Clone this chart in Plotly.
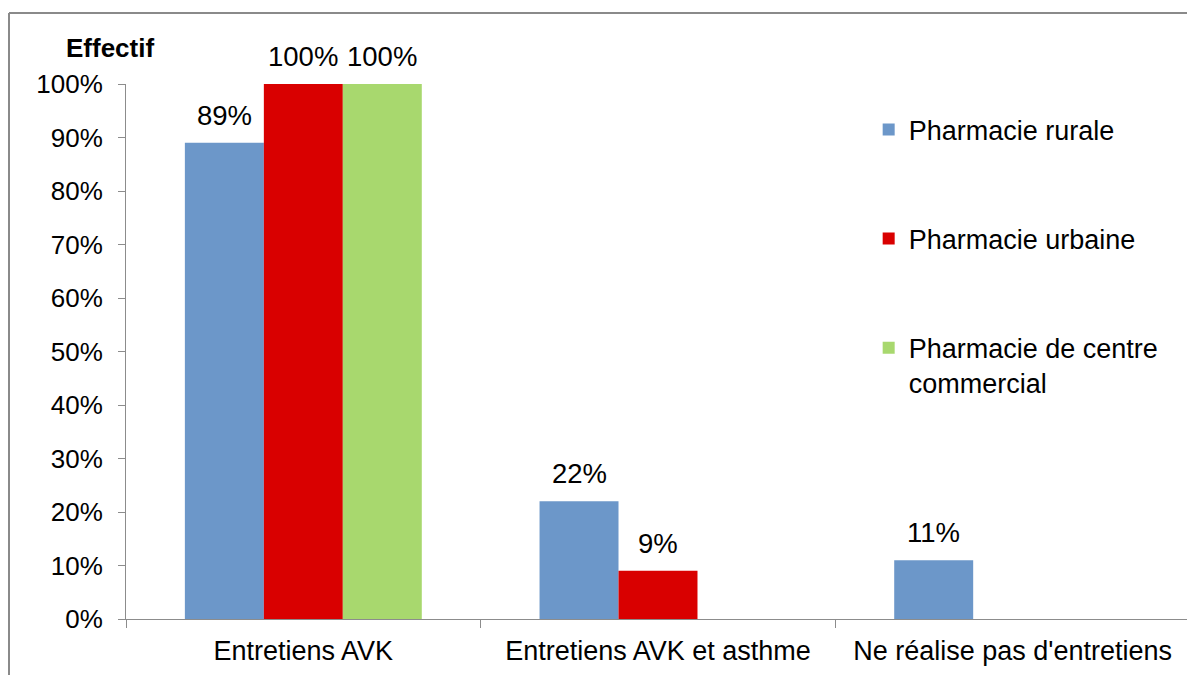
import plotly.graph_objects as go

categories = ["Entretiens AVK", "Entretiens AVK et asthme", "Ne réalise pas d'entretiens"]
series_names = ["Pharmacie rurale", "Pharmacie urbaine", "Pharmacie de centre<br>commercial"]
rurale = [0.89, 0.22, 0.11]
urbaine = [1.00, 0.09, None]
centre = [1.00, None, None]
y_ticks = [0, 0.1, 0.2, 0.3, 0.4, 0.5, 0.6, 0.7, 0.8, 0.9, 1.0]
y_tick_labels = ["0%", "10%", "20%", "30%", "40%", "50%", "60%", "70%", "80%", "90%", "100%"]
colors = ["#6C97C9", "#D90000", "#A8D86E"]

FONT = "Liberation Sans, Arial, sans-serif"

# page body has an 8px offset; plot area spans 126..1190 x 84..619 on screen
ML, MR, MT, MB = 118, 13, 76, 64
PW = 1195 - ML - MR
PH = 675 - MT - MB
BARGAP = 0.332
n_series = 3
bar_px = PW / len(categories) * (1 - BARGAP) / n_series

fig = go.Figure()
all_series = [rurale, urbaine, centre]
for i, (name, vals) in enumerate(zip(series_names, all_series)):
    fig.add_trace(go.Bar(
        x=categories, y=vals, name=name, marker_color=colors[i],
        marker_line_width=0, legendgroup=f"g{i}",
    ))
    for cat, v in zip(categories, vals):
        if v is None:
            continue
        fig.add_annotation(x=cat, y=v, xref="x", yref="y", text=f"{round(v*100)}%",
                           showarrow=False, xanchor="center", yanchor="bottom",
                           xshift=(i - (n_series - 1) / 2) * bar_px, yshift=10,
                           font=dict(family=FONT, size=27.5, color="black"))

fig.update_layout(
    width=1195, height=675,
    margin=dict(l=ML, r=MR, t=MT, b=MB),
    paper_bgcolor="white", plot_bgcolor="white",
    barmode="group", bargap=BARGAP, bargroupgap=0,
    font=dict(family=FONT, size=26, color="black"),
    showlegend=True,
    legend=dict(x=0.698, y=0.96, xanchor="left", yanchor="top",
                font=dict(family=FONT, size=27, color="black"),
                tracegroupgap=71, valign="top", bgcolor="rgba(0,0,0,0)"),
)
fig.update_yaxes(range=[0, 1], tickvals=y_ticks, ticktext=y_tick_labels,
                 showgrid=False, zeroline=False, showline=True, linecolor="#8c8c8c",
                 linewidth=1, ticks="outside", ticklen=7, tickcolor="#8c8c8c",
                 ticklabelstandoff=10, tickfont=dict(family=FONT, size=26, color="black"))
fig.update_xaxes(showgrid=False, showline=True, linecolor="#8c8c8c", linewidth=1,
                 ticks="outside", ticklen=8, tickcolor="#8c8c8c", tickson="boundaries",
                 ticklabelstandoff=8,
                 tickfont=dict(family=FONT, size=27, color="black"))

fig.add_annotation(text="<b>Effectif</b>", xref="paper", yref="paper",
                   x=(110 - 126) / PW, y=(619 - 48) / PH, xanchor="center", yanchor="middle",
                   showarrow=False, font=dict(family=FONT, size=26, color="black"))

# outer chart border (left and top edges visible)
bx = (9 - 126) / PW
by = (619 - 13) / PH
fig.add_shape(type="line", xref="paper", yref="paper", x0=bx, x1=bx, y0=by, y1=-0.3,
              line=dict(color="#8a8a8a", width=2))
fig.add_shape(type="line", xref="paper", yref="paper", x0=bx, x1=1.1, y0=by, y1=by,
              line=dict(color="#8a8a8a", width=2))

fig.write_html("out.html")
